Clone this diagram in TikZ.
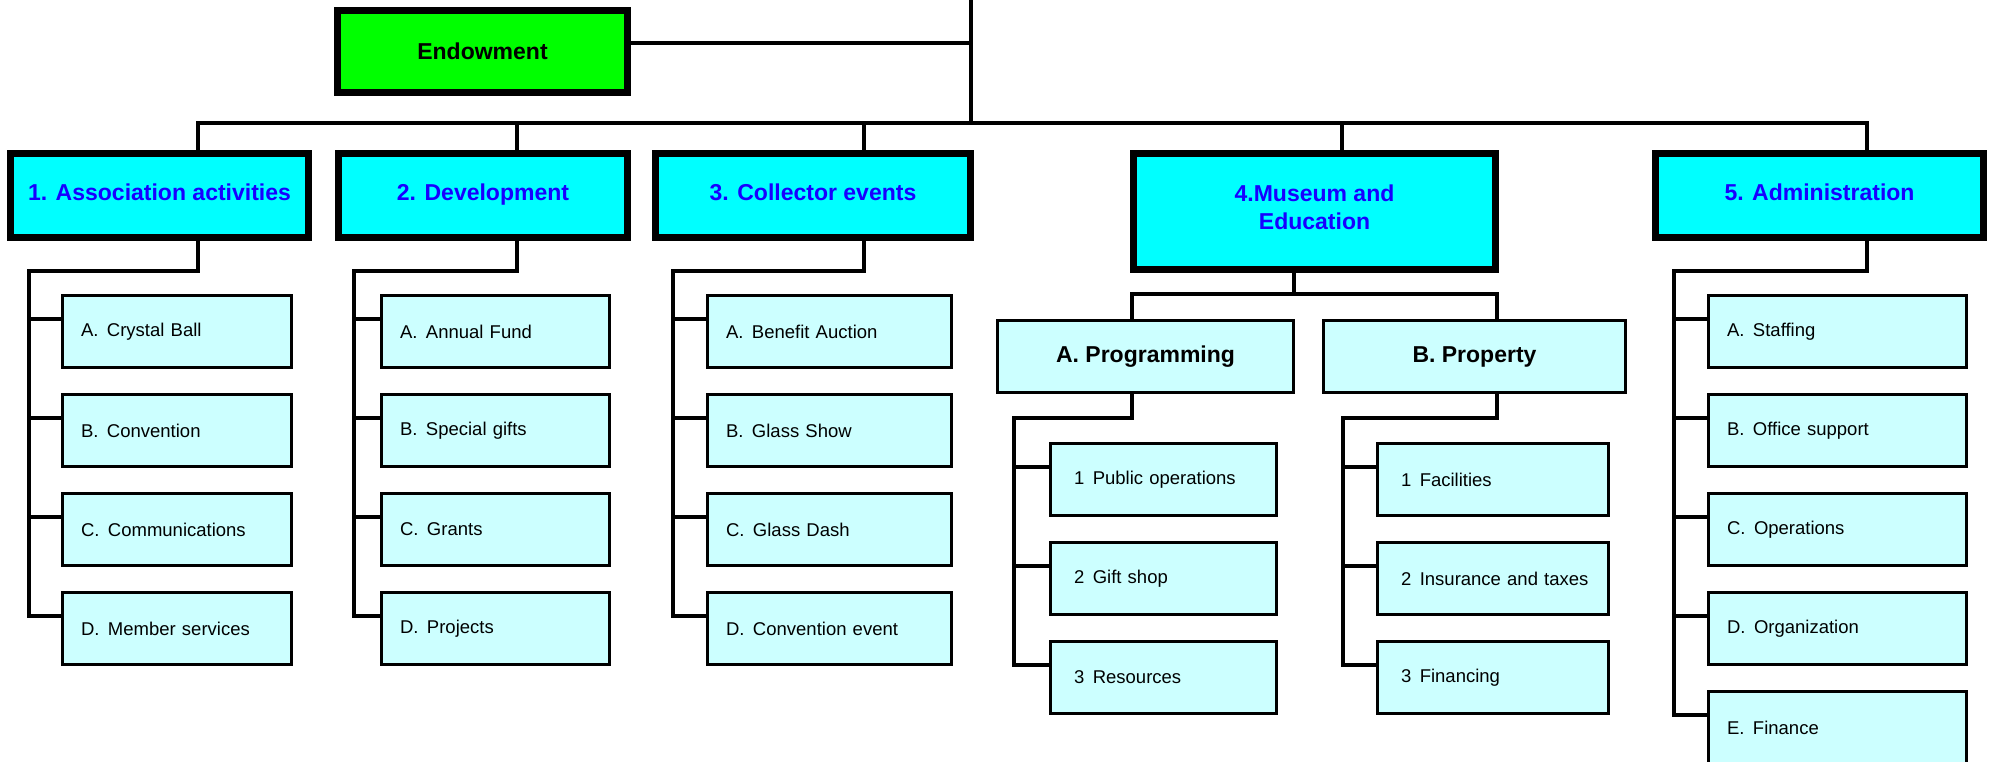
\documentclass[tikz,border=0pt]{standalone}
\usepackage{fontspec}
\setmainfont{Liberation Sans}
\definecolor{topcyan}{RGB}{0,255,255}
\definecolor{subcyan}{RGB}{204,255,255}
\definecolor{endgreen}{RGB}{0,255,0}
\definecolor{topblue}{RGB}{24,0,255}
\pgfdeclarelayer{bg}
\pgfsetlayers{bg,main}
\tikzset{
  conn/.style={line width=3.5pt, line cap=rect, line join=miter},
  topbox/.style={draw, line width=7pt, fill=topcyan, text=topblue, align=center,
    inner sep=0pt, text height=16.5pt, text depth=6pt, font=\fontsize{23}{28}\selectfont\bfseries},
  endbox/.style={draw, line width=7pt, fill=endgreen, text=black, align=center,
    inner sep=0pt, font=\fontsize{23}{28}\selectfont\bfseries},
  midbox/.style={draw, line width=3pt, fill=subcyan, text=black, align=center,
    inner sep=0pt, font=\fontsize{23}{28}\selectfont\bfseries},
  leaf/.style={draw, line width=3pt, fill=subcyan, text=black, align=left,
    inner ysep=0pt, minimum height=72pt, font=\fontsize{18.5}{22}\selectfont}
}
\newcommand\leafbox[6]{%
  \pgfmathsetmacro\leafcx{(#2+#3)/2}%
  \pgfmathsetmacro\leafcy{#4+37.5}%
  \pgfmathsetmacro\leaftw{#3-#2-3-2*#5}%
  \node[leaf, inner xsep=#5pt, text width=\leaftw pt] (#1) at (\leafcx,\leafcy) {\mbox{#6}};%
}
\newcommand\gap{\hspace{8.5pt}}
\begin{document}
\begin{tikzpicture}[x=1pt,y=-1pt]
\useasboundingbox (0,0) rectangle (1990,762);

% top level
\node[endbox, minimum width=290pt, minimum height=82pt] (endow) at (482.5,51.5) {Endowment};
\node[topbox, minimum width=298pt, minimum height=84pt] (assoc) at (159.5,195.5) {1. Association activities};
\node[topbox, minimum width=289pt, minimum height=84pt] (dev) at (483,195.5) {2. Development};
\node[topbox, minimum width=315pt, minimum height=84pt] (coll) at (813,195.5) {3. Collector events};
\node[topbox, text height=, text depth=8pt, minimum width=362pt, minimum height=116pt] (mus) at (1314.5,211.5) {4.Museum and\\Education};
\node[topbox, minimum width=328pt, minimum height=84pt] (admin) at (1819.5,195.5) {5. Administration};

% museum sub level
\node[midbox, minimum width=296pt, minimum height=72pt] (prog) at (1145.5,356.5) {A. Programming};
\node[midbox, minimum width=302pt, minimum height=72pt] (prop) at (1474.5,356.5) {B. Property};

% leaves
\leafbox{a1}{61}{293}{294}{18.5}{A.\gap Crystal Ball}
\leafbox{a2}{61}{293}{393}{18.5}{B.\gap Convention}
\leafbox{a3}{61}{293}{492}{18.5}{C.\gap Communications}
\leafbox{a4}{61}{293}{591}{18.5}{D.\gap Member services}

\leafbox{d1}{380}{611}{294}{18.5}{A.\gap Annual Fund}
\leafbox{d2}{380}{611}{393}{18.5}{B.\gap Special gifts}
\leafbox{d3}{380}{611}{492}{18.5}{C.\gap Grants}
\leafbox{d4}{380}{611}{591}{18.5}{D.\gap Projects}

\leafbox{c1}{706}{953}{294}{18.5}{A.\gap Benefit Auction}
\leafbox{c2}{706}{953}{393}{18.5}{B.\gap Glass Show}
\leafbox{c3}{706}{953}{492}{18.5}{C.\gap Glass Dash}
\leafbox{c4}{706}{953}{591}{18.5}{D.\gap Convention event}

\leafbox{p1}{1049}{1278}{442}{23.5}{1\gap Public operations}
\leafbox{p2}{1049}{1278}{541}{23.5}{2\gap Gift shop}
\leafbox{p3}{1049}{1278}{640}{23.5}{3\gap Resources}

\leafbox{q1}{1376}{1610}{442}{23.5}{1\gap Facilities}
\leafbox{q2}{1376}{1610}{541}{23.5}{2\gap Insurance and taxes}
\leafbox{q3}{1376}{1610}{640}{23.5}{3\gap Financing}

\leafbox{s1}{1707}{1968}{294}{18.5}{A.\gap Staffing}
\leafbox{s2}{1707}{1968}{393}{18.5}{B.\gap Office support}
\leafbox{s3}{1707}{1968}{492}{18.5}{C.\gap Operations}
\leafbox{s4}{1707}{1968}{591}{18.5}{D.\gap Organization}
\leafbox{s5}{1707}{1968}{690}{18.5}{E.\gap Finance}

% junctions
\coordinate (rootin) at (971,0);
\coordinate (rootj) at (971,123);
\coordinate (j1) at (198,271);  \coordinate (bus1) at (29,271);
\coordinate (j2) at (517,271);  \coordinate (bus2) at (354,271);
\coordinate (j3) at (864,271);  \coordinate (bus3) at (673,271);
\coordinate (j4) at (1342,123);
\coordinate (j5) at (1867,271); \coordinate (bus5) at (1674,271);
\coordinate (mj) at (1294,294);
\coordinate (jp) at (1132,418); \coordinate (busp) at (1014,418);
\coordinate (jq) at (1497,418); \coordinate (busq) at (1343,418);

\begin{pgfonlayer}{bg}
\draw[conn] (rootin) -- (rootj);
\draw[conn] ([yshift=8.5pt]endow.east) -| (rootj);
\draw[conn] (j1 |- assoc.north) |- (rootj);
\draw[conn] (j2 |- dev.north) |- (rootj);
\draw[conn] (j3 |- coll.north) |- (rootj);
\draw[conn] (j4 |- mus.north) |- (rootj);
\draw[conn] (j5 |- admin.north) |- (rootj);

\draw[conn] (j1 |- assoc.south) |- (bus1);
\draw[conn] (j2 |- dev.south) |- (bus2);
\draw[conn] (j3 |- coll.south) |- (bus3);
\draw[conn] (j5 |- admin.south) |- (bus5);

\foreach \n in {a1,a2,a3,a4} \draw[conn] ([yshift=12.5pt]\n.west) -| (bus1);
\foreach \n in {d1,d2,d3,d4} \draw[conn] ([yshift=12.5pt]\n.west) -| (bus2);
\foreach \n in {c1,c2,c3,c4} \draw[conn] ([yshift=12.5pt]\n.west) -| (bus3);
\foreach \n in {s1,s2,s3,s4,s5} \draw[conn] ([yshift=12.5pt]\n.west) -| (bus5);

\draw[conn] (mj |- mus.south) -- (mj);
\draw[conn] (jp |- prog.north) |- (mj);
\draw[conn] (jq |- prop.north) |- (mj);
\draw[conn] (jp |- prog.south) |- (busp);
\draw[conn] (jq |- prop.south) |- (busq);
\foreach \n in {p1,p2,p3} \draw[conn] ([yshift=12.5pt]\n.west) -| (busp);
\foreach \n in {q1,q2,q3} \draw[conn] ([yshift=12.5pt]\n.west) -| (busq);
\end{pgfonlayer}
\end{tikzpicture}
\end{document}
